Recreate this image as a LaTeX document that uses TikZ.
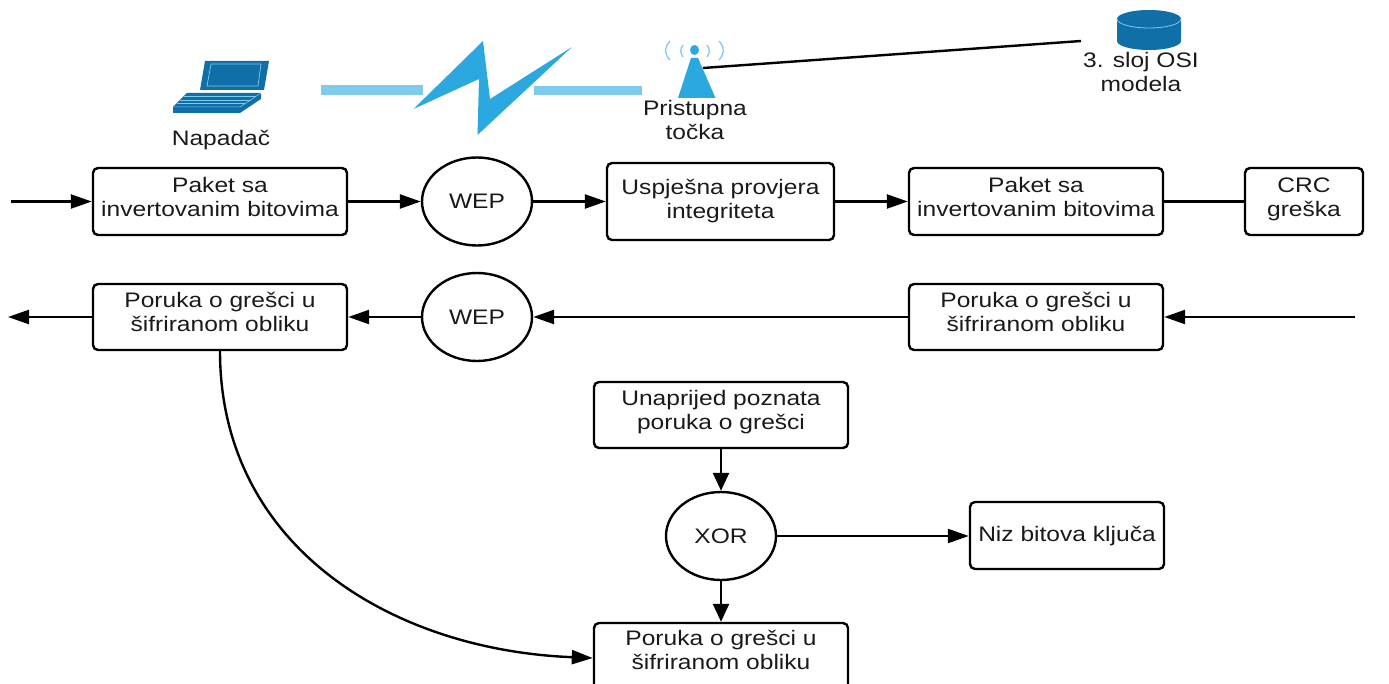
\documentclass[tikz,border=0pt]{standalone}
\usepackage{fontspec}
\setmainfont[FakeStretch=1.17]{Liberation Sans}
\usetikzlibrary{arrows.meta,shapes.geometric}
\definecolor{skyb}{HTML}{2BA8E0}
\definecolor{lightb}{HTML}{7FCBEE}
\definecolor{deepb}{HTML}{0F6FA6}
\definecolor{inkb}{HTML}{1A1A1A}
\newcommand{\up}[1]{\\[\dimexpr 2\dimexpr #1pt\relax-24pt\relax]\mbox{}}
\tikzset{
  x=1pt,y=-1pt,
  txt/.style={font=\fontsize{21}{24}\selectfont,text=inkb,align=center,inner sep=0pt},
  flowbox/.style={txt,draw=black,line width=2.4pt,rounded corners=5pt,minimum width=#1},
  flowbox/.default=254pt,
  circ/.style={txt,draw=black,line width=2.4pt,ellipse,minimum width=110pt,minimum height=88pt},
  conn/.style={draw=black,line width=2.4pt},
  arr/.style={conn,-{Triangle[length=21pt,width=14pt]}},
  varr/.style={conn,-{Triangle[length=18pt,width=16pt]}},
  wave/.style={draw=lightb,line width=1.3pt},
}
\begin{document}
\begin{tikzpicture}
\clip (0,0) rectangle (1389,684);
% laptop
\fill[deepb] (205,61)--(269,61)--(264,90)--(200,90)--cycle;
\draw[lightb,line width=.7pt] (211,64)--(261,64)--(258,86)--(207,86)--cycle;
\fill[deepb] (187,93)--(261,93)--(240,107)--(173,107)--cycle;
\fill[deepb] (173,107)--(240,107)--(240,113)--(173,113)--cycle;
\fill[deepb] (240,107)--(261,93)--(261,99)--(240,113)--cycle;
\draw[lightb,line width=.5pt] (173,107)--(240,107)--(261,93);
\foreach \t in {0.25,0.5,0.75}{
  \draw[lightb,line width=.3pt] ({187-14*\t},{93+14*\t})--({261-21*\t},{93+14*\t});
}
% wireless link
\fill[lightb] (321,85) rectangle (423,95);
\fill[lightb] (534,86) rectangle (642,95);
\fill[skyb] (413.5,109)--(483,41)--(490,99)--(572,47)--(477.5,135)--(479,79)--cycle;
% access point
\fill[skyb] (678,98)--(691,58)--(698,58)--(715.5,98)--cycle;
\fill[skyb] (694.5,50) ellipse (4.5 and 5);
\draw[wave] (670,41) .. controls (664,48) and (664,53) .. (670,60);
\draw[wave] (683,45) .. controls (680,49) and (680,53) .. (683,57);
\draw[wave] (719,41) .. controls (725,48) and (725,53) .. (719,60);
\draw[wave] (707,45) .. controls (710,49) and (710,53) .. (707,57);
\coordinate (apport) at (703,68);
% database
\fill[deepb] (1117,19) -- (1117,41) arc[start angle=180,end angle=0,x radius=32,y radius=9] -- (1181,19) -- cycle;
\fill[deepb] (1149,19) ellipse (32 and 9);
\draw[lightb,line width=.8pt] (1117,19) arc[start angle=180,end angle=0,x radius=32,y radius=9];
\coordinate (dbport) at (1081,41);
\draw[conn] (apport) -- (dbport);
% captions
\node[txt] (napadac) at (221,140) {Napadač};
\node[txt] (pristupna) at (695,119.5) {Pristupna\\točka};
\node[txt] (sloj) at (1141,72) {3. sloj OSI\\modela};
% row 1
\coordinate (in1) at (11,201.5);
\node[flowbox,minimum height=67pt] (p1) at (220,201.5) {Paket sa\\invertovanim bitovima\up{5}};
\node[circ] (w1) at (477,201.5) {WEP};
\node[flowbox=227pt,minimum height=77pt] (prov) at (720.5,201.5) {Uspješna provjera\\integriteta\up{3}};
\node[flowbox,minimum height=67pt] (p2) at (1036,201.5) {Paket sa\\invertovanim bitovima\up{5}};
\node[flowbox=118pt,minimum height=67pt] (crc) at (1304,201.5) {CRC\\greška\up{4}};
\draw[arr] (in1) -- (p1);
\draw[arr] (p1) -- (w1);
\draw[arr] (w1) -- (prov);
\draw[arr] (prov) -- (p2);
\draw[conn] (p2) -- (crc);
% row 2
\coordinate (in2) at (1355,317);
\coordinate (out2) at (8,317);
\node[flowbox,minimum height=66pt] (r2) at (1036,317) {Poruka o grešci u\\šifriranom obliku\up{5}};
\node[circ] (w2) at (477,317) {WEP};
\node[flowbox,minimum height=66pt] (l2) at (220,317) {Poruka o grešci u\\šifriranom obliku\up{5}};
\draw[arr] (in2) -- (r2);
\draw[arr] (r2) -- (w2);
\draw[arr] (w2) -- (l2);
\draw[arr] (l2) -- (out2);
% lower part
\node[flowbox,minimum height=66pt] (known) at (721,415) {Unaprijed poznata\\poruka o grešci\up{5}};
\node[circ,minimum height=88pt] (xor) at (721,536) {XOR};
\node[flowbox=194pt,minimum height=67pt] (niz) at (1067,535.5) {Niz bitova ključa\up{2}};
\node[flowbox,minimum height=70pt] (cipher) at (721,658) {Poruka o grešci u\\šifriranom obliku\up{8}};
\draw[varr] (known) -- (xor);
\draw[varr] (xor) -- (cipher);
\draw[arr] (xor.east) -- (niz.west |- xor.east);
\draw[arr] (l2.south) .. controls (220,545) and (390,650) .. (cipher.west);
\end{tikzpicture}
\end{document}
